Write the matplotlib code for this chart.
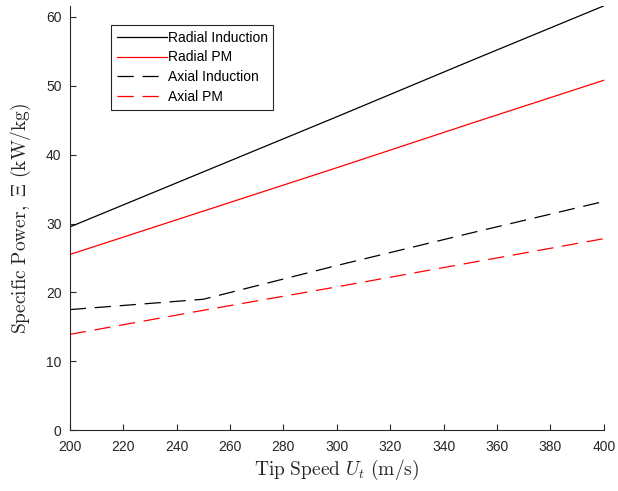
import matplotlib
matplotlib.use("Agg")
import matplotlib.pyplot as plt

# tip speed [m/s]
tip_speed = [200, 250, 300, 350, 400]

radial_induction = [29.5, 37.5, 45.5, 53.6, 61.6]
radial_pm = [25.5, 31.8, 38.1, 44.5, 50.8]
axial_induction = [17.5, 19.0, 23.9, 28.6, 33.2]
axial_pm = [13.9, 17.4, 20.8, 24.3, 27.8]

labels = ["Radial Induction", "Radial PM", "Axial Induction", "Axial PM"]

plt.rcParams['font.family'] = ['Liberation Sans', 'DejaVu Sans']
plt.rcParams['mathtext.fontset'] = 'cm'

axcol = '#262626'

fig = plt.figure(figsize=(6.18, 4.91), dpi=100)
ax = fig.add_axes([0.113, 0.124, 0.864, 0.864])

dash = (0, (13, 7))
ax.plot(tip_speed, radial_induction, color='k', lw=0.9, label=labels[0])
ax.plot(tip_speed, radial_pm, color='r', lw=0.9, label=labels[1])
ax.plot(tip_speed, axial_induction, color='k', lw=0.9, linestyle=dash, label=labels[2])
ax.plot(tip_speed, axial_pm, color='r', lw=0.9, linestyle=dash, label=labels[3])

ax.set_xlim(200, 400)
ax.set_ylim(0, max(radial_induction))
ax.set_xticks(range(200, 401, 20))
ax.set_yticks(range(0, 61, 10))

for side in ['top', 'right']:
    ax.spines[side].set_visible(False)
for side in ['left', 'bottom']:
    ax.spines[side].set_color(axcol)
    ax.spines[side].set_linewidth(0.8)
ax.tick_params(direction='in', length=4, width=0.8, colors=axcol, labelsize=10)
ax.tick_params(axis='x', pad=7)
ax.tick_params(axis='y', pad=6)

ax.set_xlabel(r"$\mathrm{Tip\ Speed\ }U_t\ \mathrm{(m/s)}$", fontsize=14, color=axcol, labelpad=3)
ax.set_ylabel(r"$\mathrm{Specific\ Power,\ }\Xi\ \mathrm{(kW/kg)}$", fontsize=14, color=axcol, labelpad=9)

leg = ax.legend(loc='upper left', bbox_to_anchor=(0.077, 0.955), fontsize=10,
                fancybox=False, framealpha=1, edgecolor=axcol, handlelength=3.6,
                handletextpad=0.1, borderpad=0.4, labelspacing=0.42, borderaxespad=0)
leg.get_frame().set_linewidth(0.8)

fig.savefig("out.png", dpi=100)
